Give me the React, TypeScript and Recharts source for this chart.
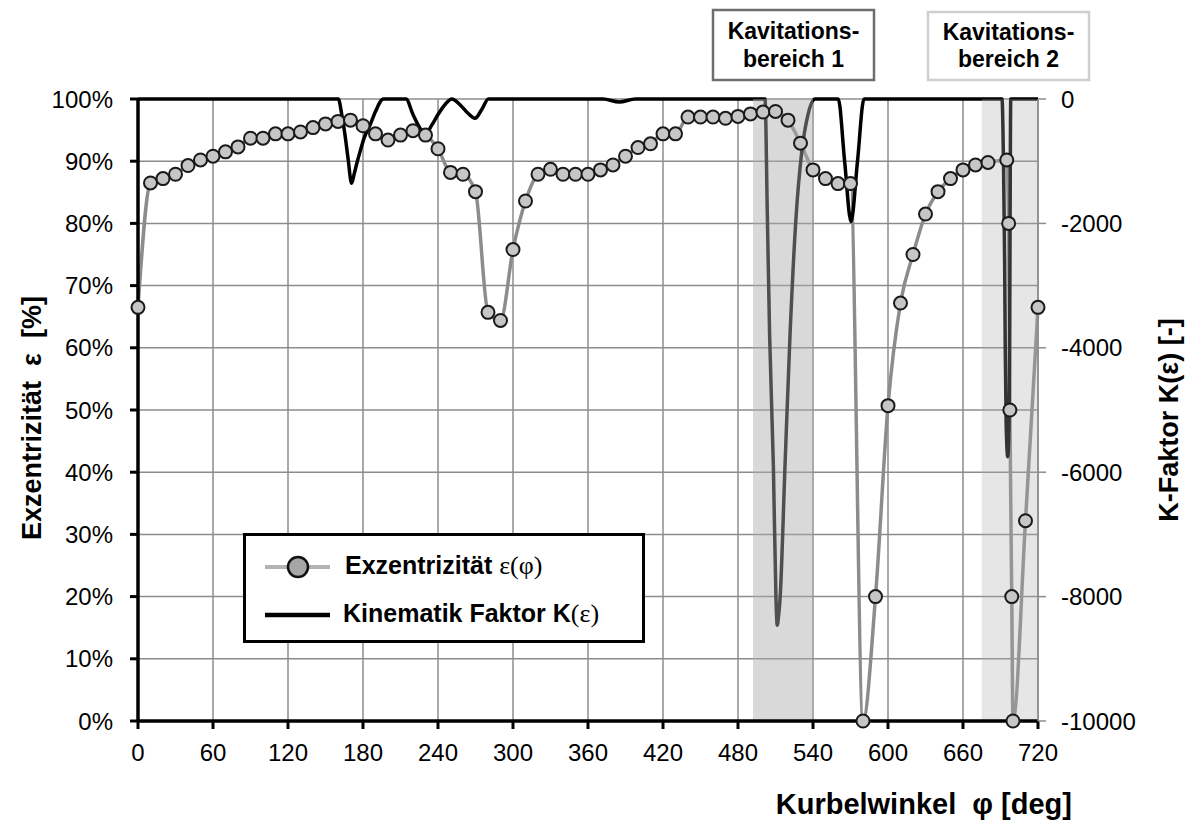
import React from 'react';
import {
  ComposedChart,
  Line,
  XAxis,
  YAxis,
  CartesianGrid,
  ReferenceArea,
  Legend
} from 'recharts';

// Exzentrizität über Kurbelwinkel
const angleDeg = [
  0, 10, 20, 30, 40, 50, 60, 70, 80, 90, 100, 110, 120, 130, 140, 150, 160, 170,
  180, 190, 200, 210, 220, 230, 240, 250, 260, 270, 280, 290, 300, 310, 320, 330,
  340, 350, 360, 370, 380, 390, 400, 410, 420, 430, 440, 450, 460, 470, 480, 490,
  500, 510, 520, 530, 540, 550, 560, 570, 580, 590, 600, 610, 620, 630, 640, 650,
  660, 670, 680, 695, 696.5, 697.5, 699, 700, 710, 720
];
const eccentricityPct = [
  66.5, 86.5, 87.2, 87.9, 89.3, 90.2, 90.8, 91.5, 92.3, 93.7, 93.7, 94.4, 94.4, 94.7, 95.4, 96.0, 96.4, 96.6,
  95.7, 94.4, 93.4, 94.2, 94.9, 94.2, 92.0, 88.2, 87.9, 85.1, 65.7, 64.4, 75.8, 83.6, 87.9, 88.7,
  87.9, 87.9, 87.9, 88.6, 89.4, 90.8, 92.2, 92.8, 94.4, 94.4, 97.1, 97.1, 97.1, 96.9, 97.2, 97.6,
  97.9, 98.0, 96.6, 92.9, 88.6, 87.2, 86.4, 86.4, 0, 20, 50.7, 67.2, 75, 81.5, 85.1, 87.2,
  88.6, 89.4, 89.8, 90.2, 80, 50, 20, 0, 32.2, 66.5
];

// Kinematik Faktor K(eps)
const kAngleDeg = [
  0, 160.3, 163, 165.6, 168, 170.9, 173, 175.5, 177.6, 181, 185.6, 190, 196.3,
  214.4, 220, 225.6, 230.4, 235, 240, 246, 251, 258, 264, 269.6, 275, 280.3,
  372, 385, 398,
  501.6, 503.5, 505.3, 508.3, 510.4, 511.4, 512.5, 513.6, 517.6, 521.6, 526.4, 531, 536, 541.6,
  560.2, 565.3, 570.4, 575.6, 580.8,
  691.2, 692.5, 693.3, 693.8, 694.5, 695.8, 697.0, 697.4, 697.7, 698.2, 720
];
const kFactor = [
  0, 0, -250, -580, -950, -1355, -1200, -1000, -850, -620, -420, -200, 0,
  0, -250, -470, -552, -420, -250, -80, 0, -100, -230, -310, -170, 0,
  0, -50, 0,
  0, -1900, -3800, -5900, -8050, -8460, -8300, -8050, -5900, -3800, -1910, -850, -250, 0,
  0, -1000, -1970, -1000, 0,
  0, -1200, -2600, -4000, -5200, -5750, -5000, -3500, -1800, 0, 0
];

const xTicks = [0, 60, 120, 180, 240, 300, 360, 420, 480, 540, 600, 660, 720];
const leftTicks = [0, 10, 20, 30, 40, 50, 60, 70, 80, 90, 100];
const rightTicks = [-10000, -8000, -6000, -4000, -2000, 0];

const zone1 = [492, 540];
const zone2 = [675, 720];

const eccData = angleDeg.map((x, i) => ({ x, e: eccentricityPct[i] }));
const kData = kAngleDeg.map((x, i) => ({ x, k: kFactor[i] }));

const SANS = 'Liberation Sans, Arial, sans-serif';
const SERIF = 'Liberation Serif, Times New Roman, serif';

function LegendBox() {
  return (
    <svg width={402} height={110} style={{ display: 'block' }}>
      <rect x={1.5} y={1.5} width={399} height={107} fill="#fff" stroke="#000" strokeWidth={3} />
      <line x1={22} y1={34} x2={87} y2={34} stroke="#b3b3b3" strokeWidth={4} />
      <circle cx={55} cy={34} r={10} fill="#a6a6a6" stroke="#111" strokeWidth={2.5} />
      <text x={102} y={41} fontFamily={SANS} fontSize={25} fontWeight="bold" fill="#000">
        Exzentrizität <tspan fontFamily={SERIF} fontWeight="normal" fontSize={26}>ε(φ)</tspan>
      </text>
      <line x1={22} y1={82} x2={87} y2={82} stroke="#000" strokeWidth={4.5} />
      <text x={100} y={89} fontFamily={SANS} fontSize={25} fontWeight="bold" fill="#000">
        Kinematik Faktor K<tspan fontFamily={SERIF} fontWeight="normal" fontSize={26}>(ε)</tspan>
      </text>
    </svg>
  );
}

export default function App() {
  return (
    <div style={{ position: 'absolute', left: 0, top: 0, width: 1188, height: 823, background: '#fff' }}>
      <ComposedChart width={1188} height={823} margin={{ top: 99, right: 0, bottom: 0, left: 0 }}>
        <CartesianGrid yAxisId="left" stroke="#8c8c8c" strokeWidth={1.5} />
        <XAxis
          dataKey="x"
          type="number"
          domain={[0, 720]}
          ticks={xTicks}
          height={102}
          axisLine={{ stroke: '#000', strokeWidth: 3.5 }}
          tickLine={{ stroke: '#000', strokeWidth: 3 }}
          tickSize={8}
          tickMargin={15}
          tick={{ fontSize: 24, fill: '#000', fontFamily: SANS }}
        />
        <YAxis
          yAxisId="left"
          domain={[0, 100]}
          ticks={leftTicks}
          width={138}
          tickFormatter={(v: number) => `${v}%`}
          axisLine={{ stroke: '#000', strokeWidth: 3.5 }}
          tickLine={{ stroke: '#000', strokeWidth: 3 }}
          tickSize={8}
          tickMargin={17}
          tick={{ fontSize: 24, fill: '#000', fontFamily: SANS }}
        />
        <YAxis
          yAxisId="right"
          orientation="right"
          domain={[-10000, 0]}
          ticks={rightTicks}
          width={150}
          axisLine={{ stroke: '#8c8c8c', strokeWidth: 1.5 }}
          tickLine={{ stroke: '#8c8c8c', strokeWidth: 1.5 }}
          tickSize={8}
          tickMargin={15}
          tick={{ fontSize: 24, fill: '#000', fontFamily: SANS }}
        />
        <Line
          yAxisId="left"
          data={eccData}
          dataKey="e"
          type="monotone"
          stroke="#8c8c8c"
          strokeWidth={3.5}
          dot={{ r: 6.5, fill: '#c6c6c6', stroke: '#1a1a1a', strokeWidth: 2 }}
          isAnimationActive={false}
        />
        <Line
          yAxisId="right"
          data={kData}
          dataKey="k"
          type="monotone"
          stroke="#000"
          strokeWidth={3.5}
          dot={false}
          isAnimationActive={false}
        />
        <ReferenceArea
          yAxisId="left"
          x1={zone1[0]}
          x2={zone1[1]}
          y1={0}
          y2={100}
          fill="#adadad"
          fillOpacity={0.46}
          stroke="none"
          zIndex={450}
        />
        <ReferenceArea
          yAxisId="left"
          x1={zone2[0]}
          x2={zone2[1]}
          y1={0}
          y2={100}
          fill="#ababab"
          fillOpacity={0.3}
          stroke="none"
          zIndex={450}
        />
        <Legend
          layout="horizontal"
          verticalAlign="middle"
          align="center"
          content={() => <LegendBox />}
          wrapperStyle={{ left: 243, top: 533, width: 402, height: 110 }}
        />
      </ComposedChart>
      <svg
        width={1188}
        height={823}
        style={{ position: 'absolute', left: 0, top: 0, pointerEvents: 'none' }}
      >
        <text
          transform="translate(41,418) rotate(-90)"
          textAnchor="middle"
          fontFamily={SANS}
          fontSize={27}
          fontWeight="bold"
          fill="#000"
          xmlSpace="preserve"
        >
          Exzentrizität  ε  [%]
        </text>
        <text
          transform="translate(1178,420) rotate(-90)"
          textAnchor="middle"
          fontFamily={SANS}
          fontSize={27}
          fontWeight="bold"
          fill="#000"
        >
          K-Faktor K(ε) [-]
        </text>
        <text
          x={1072}
          y={814}
          textAnchor="end"
          fontFamily={SANS}
          fontSize={29}
          fontWeight="bold"
          fill="#000"
          xmlSpace="preserve"
        >
          Kurbelwinkel  φ [deg]
        </text>
        <rect x={713} y={10} width={161} height={70} fill="#fff" stroke="#6e6e6e" strokeWidth={2.5} />
        <text x={793.5} y={39} textAnchor="middle" fontFamily={SANS} fontSize={23} fontWeight="bold" fill="#000">
          Kavitations-
        </text>
        <text x={793.5} y={67} textAnchor="middle" fontFamily={SANS} fontSize={23} fontWeight="bold" fill="#000">
          bereich 1
        </text>
        <rect x={928} y={12} width={161} height={68} fill="#fff" stroke="#cfcfcf" strokeWidth={2.5} />
        <text x={1008.5} y={40} textAnchor="middle" fontFamily={SANS} fontSize={23} fontWeight="bold" fill="#000">
          Kavitations-
        </text>
        <text x={1008.5} y={67} textAnchor="middle" fontFamily={SANS} fontSize={23} fontWeight="bold" fill="#000">
          bereich 2
        </text>
      </svg>
    </div>
  );
}
